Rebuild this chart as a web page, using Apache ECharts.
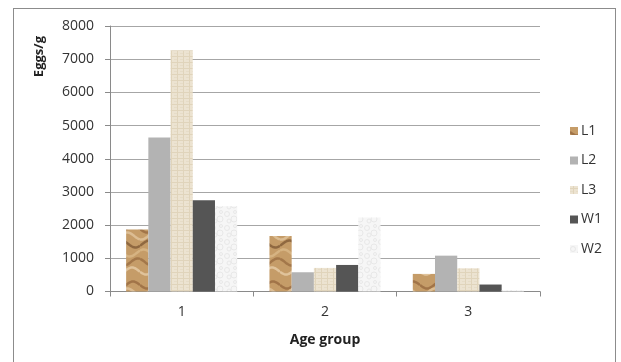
<!DOCTYPE html>
<html>
<head>
<meta charset="utf-8">
<script src="https://cdn.jsdelivr.net/npm/echarts@6/dist/echarts.min.js"></script>
<style>
  html, body { margin: 0; padding: 0; background: #fff; }
  #chart { width: 621px; height: 362px; }
  #frame { position: absolute; left: 13px; top: 8px; width: 603px; height: 360px;
           border: 1px solid #8c8c8c; box-sizing: border-box; pointer-events: none; }
</style>
</head>
<body>
<div id="chart"></div>
<div id="frame"></div>
<script>
// Egg counts (eggs per gram) for each age group
const categories = ['1', '2', '3'];
const L1 = [1870, 1670, 530];
const L2 = [4640, 580, 1080];
const L3 = [7270, 710, 700];
const W1 = [2750, 800, 210];
const W2 = [2570, 2230, 40];
const yTicks = { min: 0, max: 8000, interval: 1000 };

// Small repeating textures used as bar fills
function makeCanvas(w, h) {
  const c = document.createElement('canvas');
  c.width = w; c.height = h;
  return c;
}

function sandPattern() {
  const c = makeCanvas(28, 56);
  const g = c.getContext('2d');
  g.fillStyle = '#c59c68';
  g.fillRect(0, 0, 28, 56);
  g.lineWidth = 2.5;
  const waves = [
    { y: 5, col: '#a17448' }, { y: 12, col: '#dcbd93' }, { y: 20, col: '#8f6840' },
    { y: 29, col: '#d6b382' }, { y: 38, col: '#a3774a' }, { y: 47, col: '#e0c39b' }
  ];
  waves.forEach((wv, i) => {
    g.strokeStyle = wv.col;
    g.beginPath();
    for (let x = 0; x <= 28; x += 1) {
      const y = wv.y + 3.5 * Math.sin((x / 28) * Math.PI * 2 + i * 1.3);
      if (x === 0) g.moveTo(x, y); else g.lineTo(x, y);
    }
    g.stroke();
  });
  return c;
}

function burlapPattern() {
  const c = makeCanvas(6, 6);
  const g = c.getContext('2d');
  g.fillStyle = '#ece3d1';
  g.fillRect(0, 0, 6, 6);
  g.fillStyle = '#e0d4bb';
  g.fillRect(0, 2, 6, 1);
  g.fillRect(3, 0, 1, 6);
  g.fillStyle = '#e6dcc7';
  g.fillRect(0, 5, 3, 1);
  return c;
}

function marblePattern() {
  const c = makeCanvas(14, 14);
  const g = c.getContext('2d');
  g.fillStyle = '#f6f6f6';
  g.fillRect(0, 0, 14, 14);
  g.strokeStyle = '#e8e8e8';
  g.lineWidth = 1;
  [[3, 4, 2.5], [10, 9, 3], [5, 11, 2], [11, 2, 1.5]].forEach(([x, y, r]) => {
    g.beginPath(); g.arc(x, y, r, 0, Math.PI * 2); g.stroke();
  });
  return c;
}

const fills = {
  L1: { image: sandPattern(), repeat: 'repeat' },
  L2: '#b3b3b3',
  L3: { image: burlapPattern(), repeat: 'repeat' },
  W1: '#555555',
  W2: { image: marblePattern(), repeat: 'repeat' }
};

const seriesData = { L1, L2, L3, W1, W2 };
const font = 'Open Sans';

const chart = echarts.init(document.getElementById('chart'), null, { renderer: 'canvas' });
chart.setOption({
  animation: false,
  backgroundColor: '#ffffff',
  grid: { left: 110, right: 81, top: 26, bottom: 70.5 },
  graphic: [{
    type: 'text',
    left: 33, top: 36,
    rotation: Math.PI / 2,
    style: { text: 'Eggs/g', fontFamily: font, fontSize: 13, fontWeight: 'bold', fill: '#222' }
  }],
  legend: {
    orient: 'vertical',
    left: 565, top: 119,
    itemWidth: 8, itemHeight: 8, itemGap: 15.5,
    icon: 'rect',
    textStyle: { fontFamily: font, fontSize: 14, color: '#333', padding: [0, 0, 0, -2] },
    data: Object.keys(seriesData)
  },
  xAxis: {
    type: 'category',
    data: categories,
    name: 'Age group',
    nameLocation: 'middle',
    nameGap: 42,
    nameTextStyle: { fontFamily: font, fontSize: 14, fontWeight: 'bold', color: '#222' },
    axisLine: { lineStyle: { color: '#8a8a8a' } },
    axisTick: { show: true, length: 5, lineStyle: { color: '#8a8a8a' } },
    axisLabel: { fontFamily: font, fontSize: 14, color: '#333', margin: 14 }
  },
  yAxis: {
    type: 'value',
    min: yTicks.min, max: yTicks.max, interval: yTicks.interval,
    axisLine: { show: true, lineStyle: { color: '#8a8a8a' } },
    axisTick: { show: true, length: 5, lineStyle: { color: '#8a8a8a' } },
    axisLabel: { fontFamily: font, fontSize: 14, color: '#333', margin: 16,
                 formatter: v => String(v) },
    splitLine: { lineStyle: { color: '#a6a6a6' } }
  },
  series: Object.keys(seriesData).map(name => ({
    name,
    type: 'bar',
    data: seriesData[name],
    barGap: '0%',
    barCategoryGap: '22.5%',
    itemStyle: { color: fills[name] }
  }))
});
</script>
</body>
</html>
